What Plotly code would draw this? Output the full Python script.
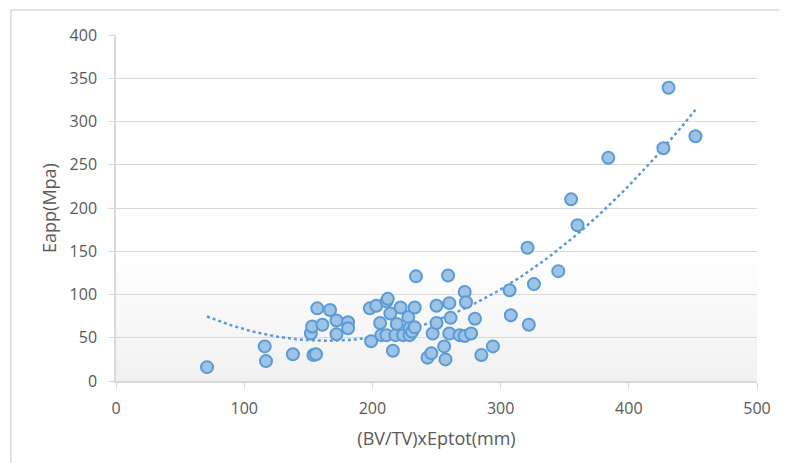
import numpy as np
import plotly.graph_objects as go

# Data
bvtv_eptot = [71, 116, 117, 138, 152, 153, 157, 154, 156, 161, 167, 172, 172, 181, 181,
              198, 203, 199, 206, 207, 211, 211, 212, 214, 216, 218, 219, 222, 224, 228,
              229, 229, 231, 233, 234, 233, 243, 246, 247, 250, 250, 256, 257, 259, 260,
              261, 260, 268, 272, 272, 273, 277, 280, 285, 294, 307, 308, 321, 322, 326,
              345, 355, 360, 384, 427, 431, 452]
eapp = [16, 40, 23, 31, 55, 63, 84, 30, 31, 65, 82, 70, 54, 68, 61,
        84, 87, 46, 67, 53, 53, 92, 95, 78, 35, 53, 66, 85, 53, 74,
        53, 61, 57, 85, 121, 62, 27, 32, 55, 67, 87, 40, 25, 122, 90,
        73, 55, 53, 52, 103, 91, 55, 72, 30, 40, 105, 76, 154, 65, 112,
        127, 210, 180, 258, 269, 339, 283]

x_ticks = [0, 100, 200, 300, 400, 500]
y_ticks = [0, 50, 100, 150, 200, 250, 300, 350, 400]
x_title = "(BV/TV)xEptot(mm)"
y_title = "Eapp(Mpa)"

# Order-2 polynomial trendline fitted to the data
xa = np.array(bvtv_eptot, dtype=float)
ya = np.array(eapp, dtype=float)
coef = np.polyfit(xa, ya, 2)
xt = np.linspace(xa.min(), xa.max(), 200)
yt = np.polyval(coef, xt)

FONT = "'Open Sans', Lato, sans-serif"
GRAY = "#595959"
GRID = "#d9d9d9"

fig = go.Figure()
fig.add_trace(go.Scatter(
    x=xt, y=yt, mode="lines",
    line=dict(color="#5b9bd5", width=2.5, dash="dot"),
    hoverinfo="skip", showlegend=False,
))
fig.add_trace(go.Scatter(
    x=bvtv_eptot, y=eapp, mode="markers",
    marker=dict(size=12, color="#9dc3e6", line=dict(color="#5b9bd5", width=2)),
    showlegend=False,
))

# Background gradient in lower part of the plot area (decorative)
shapes = []
n = 40
top = 150.0
for i in range(n):
    y0 = top * i / n
    y1 = top * (i + 1) / n
    t = 1 - (i + 0.5) / n
    v = int(round(255 - t * 15))
    shapes.append(dict(type="rect", xref="paper", yref="y", x0=0, x1=1, y0=y0, y1=y1,
                       fillcolor=f"rgb({v},{v},{v})", line=dict(width=0), layer="below"))
# Outer chart border (left/top visible in the reference)
shapes.append(dict(type="rect", xref="paper", yref="paper",
                   x0=(11 - 116) / 641, x1=1.5, y0=-1.0, y1=(381 - 10) / 346,
                   line=dict(color=GRID, width=1.5), fillcolor="rgba(0,0,0,0)", layer="below"))

# page body has an 8px margin, so the figure is offset by (8, 8)
fig.update_layout(
    width=779, height=455,
    margin=dict(l=108, r=30, t=27, b=82),
    paper_bgcolor="white", plot_bgcolor="white",
    font=dict(family=FONT, color=GRAY, size=16),
    shapes=shapes,
    showlegend=False,
)
fig.update_xaxes(
    range=[0, 500], tickvals=x_ticks, showgrid=False, zeroline=False,
    showline=True, linecolor=GRID, linewidth=1.5,
    ticks="outside", ticklen=6, tickcolor=GRID, ticklabelstandoff=6,
    tickfont=dict(size=16, color=GRAY),
    title=dict(text=x_title, font=dict(size=18, color=GRAY), standoff=14),
)
fig.update_yaxes(
    range=[0, 400], tickvals=y_ticks, showgrid=True, gridcolor=GRID, gridwidth=1.2,
    zeroline=False, showline=True, linecolor=GRID, linewidth=1.5,
    ticks="outside", ticklen=6, tickcolor=GRID, ticklabelstandoff=8,
    tickfont=dict(size=16, color=GRAY),
    title=dict(text=y_title, font=dict(size=18, color=GRAY), standoff=8),
)

fig.write_html("out.html")
